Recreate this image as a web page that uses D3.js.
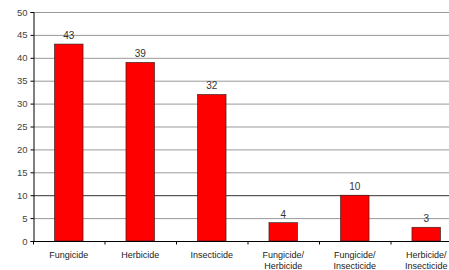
<!DOCTYPE html>
<html>
<head>
<meta charset="utf-8">
<script src="https://cdn.jsdelivr.net/npm/d3@7"></script>
<style>
  body { margin: 0; background: #fff; }
  text { font-family: "Liberation Sans", Arial, sans-serif; }
</style>
</head>
<body>
<svg id="chart" width="449" height="270"></svg>
<script>
// data
let categories = [
    ["Fungicide"],
    ["Herbicide"],
    ["Insecticide"],
    ["Fungicide/", "Herbicide"],
    ["Fungicide/", "Insecticide"],
    ["Herbicide/", "Insecticide"]
];
let counts = [43, 39, 32, 4, 10, 3];
let yTicks = [0, 5, 10, 15, 20, 25, 30, 35, 40, 45, 50];

let svg = d3.select("#chart");
let ids = categories.map((c, i) => i);

// plot area runs off the right edge like the original
let x = d3.scaleBand()
    .domain(ids)
    .range([33, 462])
    .paddingInner(0.6)
    .paddingOuter(0.3);

let y = d3.scaleLinear()
    .domain([0, 50])
    .range([241, 12]);

// gridlines
svg.append("g")
    .selectAll("line")
    .data(yTicks.filter(t => t > 0))
    .enter()
    .append("line")
    .attr("x1", 33)
    .attr("x2", 449)
    .attr("y1", d => y(d) + 0.5)
    .attr("y2", d => y(d) + 0.5)
    .attr("stroke", d => d == 10 ? "#333" : "#999")
    .attr("stroke-width", 1);

// bars
svg.append("g")
    .selectAll("rect")
    .data(counts)
    .enter()
    .append("rect")
    .attr("x", (d, i) => x(i))
    .attr("y", d => y(d))
    .attr("width", x.bandwidth())
    .attr("height", d => y(0) - y(d))
    .attr("fill", "#ff0000")
    .attr("stroke", "#222")
    .attr("stroke-width", 0.6);

// value labels
svg.append("g")
    .selectAll("text")
    .data(counts)
    .enter()
    .append("text")
    .attr("x", (d, i) => x(i) + x.bandwidth() / 2)
    .attr("y", d => y(d) - 5)
    .attr("text-anchor", "middle")
    .attr("font-size", 10)
    .attr("fill", "#333")
    .text(d => d);

// y axis
let yAxis = svg.append("g")
    .attr("transform", "translate(33.5,0)")
    .call(d3.axisLeft(y).tickValues(yTicks).tickSize(3).tickPadding(3));
yAxis.select(".domain").attr("stroke", "#000");
yAxis.selectAll("text").attr("font-size", 9.5).attr("fill", "#444")
    .style("font-family", "Liberation Sans, Arial, sans-serif");

// x axis
let xAxis = svg.append("g")
    .attr("transform", "translate(0,241.5)");
xAxis.append("line")
    .attr("x1", 33)
    .attr("x2", 449)
    .attr("stroke", "#000");
xAxis.selectAll("line.tick")
    .data(ids)
    .enter()
    .append("line")
    .attr("class", "tick")
    .attr("x1", d => x(d) - x.step() * 0.3 + 0.5)
    .attr("x2", d => x(d) - x.step() * 0.3 + 0.5)
    .attr("y1", 0)
    .attr("y2", 3)
    .attr("stroke", "#000");

// category labels
let labels = svg.append("g")
    .selectAll("text")
    .data(categories)
    .enter()
    .append("text")
    .attr("x", (d, i) => x(i) + x.bandwidth() / 2)
    .attr("y", 258)
    .attr("text-anchor", "middle")
    .attr("font-size", 9)
    .attr("fill", "#222");
labels.selectAll("tspan")
    .data(d => d)
    .enter()
    .append("tspan")
    .attr("x", function () { return d3.select(this.parentNode).attr("x"); })
    .attr("dy", (d, i) => i == 0 ? 0 : 11)
    .text(d => d);
</script>
</body>
</html>
